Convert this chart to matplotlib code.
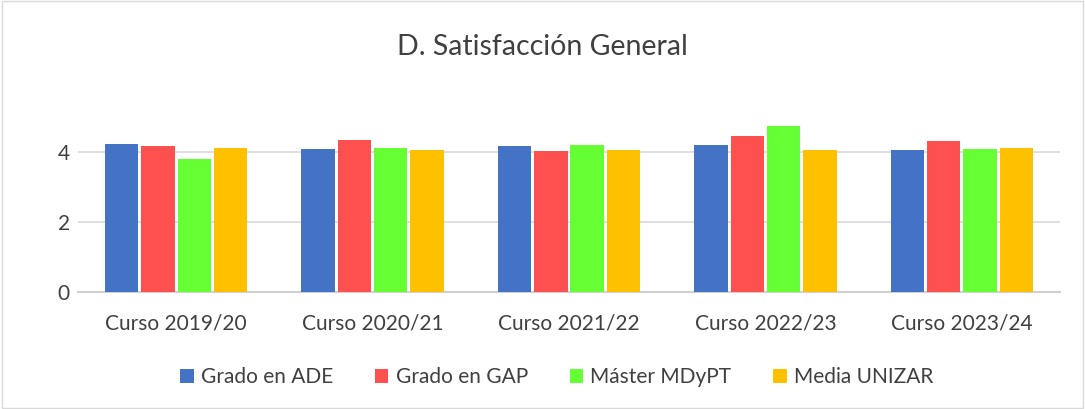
import numpy as np
import matplotlib
matplotlib.use("Agg")
import matplotlib.pyplot as plt
from matplotlib.patches import Rectangle

plt.rcParams['font.family'] = ['Lato', 'DejaVu Sans']

cursos = ['Curso 2019/20', 'Curso 2020/21', 'Curso 2021/22', 'Curso 2022/23', 'Curso 2023/24']
series = ['Grado en ADE', 'Grado en GAP', 'Máster MDyPT', 'Media UNIZAR']
ade = [4.23, 4.11, 4.19, 4.21, 4.06]
gap = [4.19, 4.35, 4.04, 4.47, 4.32]
mdypt = [3.80, 4.12, 4.22, 4.75, 4.11]
unizar = [4.12, 4.07, 4.07, 4.06, 4.12]
colors = ['#4472C4', '#FF5050', '#66FF33', '#FFC000']

fig = plt.figure(figsize=(10.85, 4.09), dpi=100)
ax = fig.add_axes([0.0719, 0.2868, 0.905, 0.4259])

x = np.arange(len(cursos))
step = 0.185
for i, (vals, name) in enumerate(zip([ade, gap, mdypt, unizar], series)):
    ax.bar(x + (i - 1.5) * step, vals, width=0.17, color=colors[i], label=name,
           zorder=3)

ax.set_xlim(-0.5, len(cursos) - 0.5)
ax.set_ylim(0, 5)
ax.set_yticks([0, 2, 4])
ax.yaxis.grid(True, color='#D9D9D9', linewidth=1.2, zorder=0)
ax.set_axisbelow(True)
for s in ['top', 'right', 'left']:
    ax.spines[s].set_visible(False)
ax.spines['bottom'].set_color('#D0D0D0')
ax.spines['bottom'].set_linewidth(1.5)
ax.tick_params(axis='both', length=0, labelsize=15, colors='#404040', pad=6)
ax.tick_params(axis='x', pad=16)
ax.set_xticks(x)
ax.set_xticklabels(cursos)

fig.text(0.5, 0.885, 'D. Satisfacción General', ha='center', va='center',
         fontsize=20.5, color='#404040')

fig.legend(loc='center', bbox_to_anchor=(0.513, 0.078), ncol=4, frameon=False,
           fontsize=15, handlelength=0.65, handleheight=0.65, columnspacing=2.0,
           handletextpad=0.35, labelcolor='#404040')

fig.patches.append(Rectangle((0.002, 0.002), 0.996, 0.996, transform=fig.transFigure,
                             fill=False, edgecolor='#D9D9D9', linewidth=1))

fig.savefig('out.png', dpi=100)
